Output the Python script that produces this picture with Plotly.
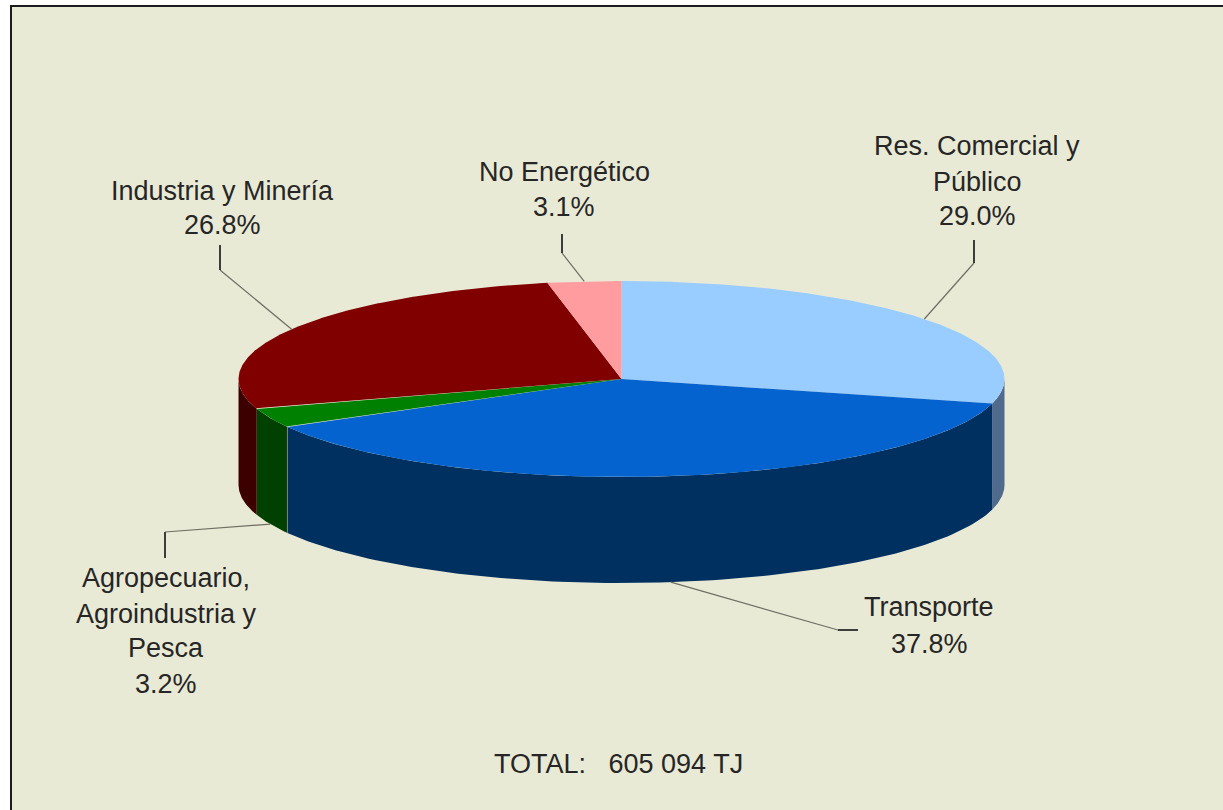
import numpy as np
import plotly.graph_objects as go

# --- data ---
categories = ["Res. Comercial y Público", "Transporte", "Agropecuario, Agroindustria y Pesca",
              "Industria y Minería", "No Energético"]
values = [29.0, 37.8, 3.2, 26.8, 3.1]
percent_labels = ["29.0%", "37.8%", "3.2%", "26.8%", "3.1%"]
label_lines = [["Res. Comercial y", "Público", "29.0%"],
               ["Transporte", "37.8%"],
               ["Agropecuario,", "Agroindustria y", "Pesca", "3.2%"],
               ["Industria y Minería", "26.8%"],
               ["No Energético", "3.1%"]]
total_label = "TOTAL:   605 094 TJ"

# --- styles ---
top_colors = ["#99ccff", "#0563cf", "#008000", "#800000", "#ff9c9f"]
wall_colors = ["#4f6a8c", "#003060", "#004000", "#3c0000", "#7f4e50"]
BG = "#e9ead6"
CX, CY, RX, RY, DEPTH = 621.5, 379, 383, 98, 106
TEXT = "#262626"
FONT = "Liberation Sans"
FS = 27

# label layout: x-centre, y of each line
label_x = [977, 929, 166, 222, 564]
label_y = [[146, 182, 216], [607, 644], [578, 614, 648, 684], [191, 225], [172, 207]]
# leader layout: elbow then end of dark stub
elbow = [(974, 263), (838, 630), (165, 532), (220, 270), (562, 253)]
stub = [(974, 240), (858, 630), (165, 558), (220, 245), (562, 234)]
on_wall = [False, True, True, False, False]


def pt(t, dz=0.0):
    t = np.radians(t)
    return CX + RX * np.sin(t), CY - RY * np.cos(t) + dz


edges = np.concatenate([[0], np.cumsum(values)]) / sum(values) * 360
fig = go.Figure()

# side walls (only the front half of the rim, t in 90..270, is visible)
for a, b, c, name in zip(edges[:-1], edges[1:], wall_colors, categories):
    lo, hi = max(a, 90), min(b, 270)
    if hi <= lo:
        continue
    t = np.linspace(lo, hi, 120)
    x1, y1 = pt(t)
    x2, y2 = pt(t[::-1], DEPTH)
    fig.add_trace(go.Scatter(x=np.r_[x1, x2, x1[0]], y=np.r_[y1, y2, y1[0]], mode="lines",
                             fill="toself", fillcolor=c, line=dict(width=0, color=c),
                             hoverinfo="skip", name=name))

# faint edge where the Transporte wall meets the Agropecuario wall
xe, ye = pt(edges[2])
fig.add_trace(go.Scatter(x=[xe, xe], y=[ye, ye + DEPTH], mode="lines",
                         line=dict(color="#7c8488", width=1), hoverinfo="skip"))

# top faces
for a, b, c, name in zip(edges[:-1], edges[1:], top_colors, categories):
    t = np.linspace(a, b, 240)
    x, y = pt(t)
    fig.add_trace(go.Scatter(x=np.r_[CX, x, CX], y=np.r_[CY, y, CY], mode="lines",
                             fill="toself", fillcolor=c, line=dict(width=0, color=c),
                             hoverinfo="skip", name=name))

# leader lines, starting from each slice's mid-angle on the rim
mids = (edges[:-1] + edges[1:]) / 2
for m, e, s, w in zip(mids, elbow, stub, on_wall):
    x0, y0 = pt(m, DEPTH if w else 0)
    fig.add_trace(go.Scatter(x=[x0, e[0]], y=[y0, e[1]], mode="lines",
                             line=dict(color="#6e6e62", width=1.2), hoverinfo="skip"))
    fig.add_trace(go.Scatter(x=[e[0], s[0]], y=[e[1], s[1]], mode="lines",
                             line=dict(color="#2a2a2a", width=1.8), hoverinfo="skip"))

# texts
annotations = []
for lines, lx, ys in zip(label_lines, label_x, label_y):
    for line, ly in zip(lines, ys):
        annotations.append(dict(x=lx, y=ly, text=line, showarrow=False, xanchor="center",
                                yanchor="middle", font=dict(family=FONT, size=FS, color=TEXT)))
annotations.append(dict(x=618, y=764, text=total_label.replace("   ", "&nbsp;&nbsp;&nbsp;"),
                        showarrow=False, xanchor="center", yanchor="middle",
                        font=dict(family=FONT, size=FS, color=TEXT)))

fig.update_layout(
    width=1223, height=810, margin=dict(l=0, r=0, t=0, b=0),
    paper_bgcolor="white", plot_bgcolor="white", showlegend=False,
    xaxis=dict(range=[0, 1223], visible=False, fixedrange=True),
    yaxis=dict(range=[810, 0], visible=False, fixedrange=True),
    annotations=annotations,
    shapes=[dict(type="rect", xref="x", yref="y", x0=11, y0=6, x1=1240, y1=830,
                 fillcolor=BG, line=dict(color="#1c1c1c", width=2), layer="below")],
)
fig.write_html("out.html", config={"displayModeBar": False},
               post_script="document.body.style.margin='0';document.body.style.overflow='hidden';")
